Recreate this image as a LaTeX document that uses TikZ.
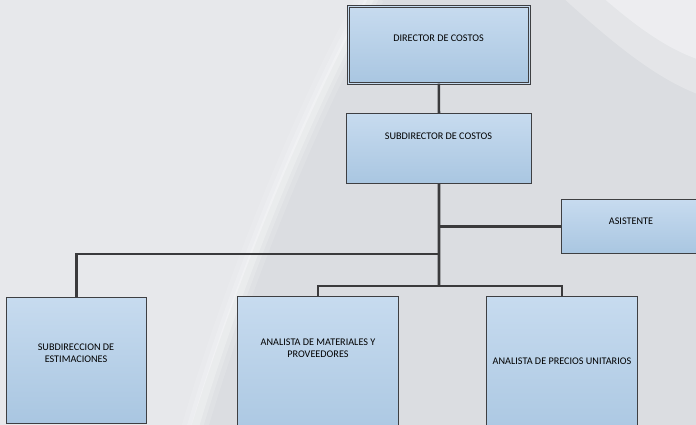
\documentclass[tikz,border=0pt]{standalone}
\usepackage{fontspec}
\setmainfont{Carlito}
\begin{document}
\begin{tikzpicture}[x=1pt,y=-1pt,
  box/.style={draw=boxline, line width=0.9pt, top color=boxtop, bottom color=boxbot,
    inner sep=0pt, anchor=north west},
  lbl/.style={font=\fontsize{10.2}{12}\selectfont, text=black, align=center, inner sep=0pt},
  link/.style={draw=linkcol, line width=2.6pt}]
\definecolor{boxline}{HTML}{3E3F42}
\definecolor{boxtop}{HTML}{C7DBEF}
\definecolor{boxbot}{HTML}{A9C6E1}
\definecolor{linkcol}{HTML}{3A3A3C}
\definecolor{bgdark}{HTML}{DBDDE1}
\definecolor{bglight}{HTML}{E7E8EB}

% page and background
\useasboundingbox (0,0) rectangle (696,425);
\begin{scope}
\clip (0,0) rectangle (696,425);
\fill[bgdark] (0,0) rectangle (696,425);
% lighter left part, bounded by a soft curve
\fill[bglight] (-5,-5) -- (370,-5) .. controls (300,120) and (230,300) .. (190,430) -- (-5,430) -- cycle;
% bright swoosh along the curve
\foreach \w/\o in {26/0.12,16/0.18,8/0.25}{
  \draw[white, opacity=\o, line width=\w] (372,-5) .. controls (302,120) and (232,300) .. (194,430);
}
% soft highlight in the upper right corner
\fill[white, opacity=0.35] (600,-5) .. controls (640,30) and (670,50) .. (700,60) -- (700,-5) -- cycle;
\fill[white, opacity=0.25] (560,-5) .. controls (620,50) and (660,80) .. (700,95) -- (700,-5) -- cycle;

% boxes
\node[box, minimum width=181, minimum height=77, double=boxtop, double distance=1.6pt,
  draw=boxline, line width=0.7pt] (dir) at (348,6) {};
\node[box, minimum width=185, minimum height=70] (sub) at (346,113) {};
\node[box, minimum width=140, minimum height=54] (asis) at (561,199) {};
\node[box, minimum width=140, minimum height=126] (est) at (6,297) {};
\node[box, minimum width=161, minimum height=150] (mat) at (237,296) {};
\node[box, minimum width=151, minimum height=150] (pre) at (486,296) {};

% texts
\node[lbl] (dir-t) at (438.5,38) {DIRECTOR DE COSTOS};
\node[lbl] (sub-t) at (438.5,136) {SUBDIRECTOR DE COSTOS};
\node[lbl] (asis-t) at (631,221) {ASISTENTE};
\node[lbl] (est-t) at (76,353) {SUBDIRECCION DE\\ESTIMACIONES};
\node[lbl] (mat-t) at (318,348) {ANALISTA DE MATERIALES Y\\PROVEEDORES};
\node[lbl] (pre-t) at (562,361) {ANALISTA DE PRECIOS UNITARIOS};

% connectors
\coordinate (jA) at (439,254);
\coordinate (jB) at (439,286);
\path[link] (dir.south) -- (sub.north);
\path[link] (sub.south) -- (jB);
\path[link] (sub.south) |- (asis.west);
\path[link] (jA) -| (est.north);
\path[link] (mat.north) |- (jB) -| (pre.north);
\end{scope}
\end{tikzpicture}
\end{document}
